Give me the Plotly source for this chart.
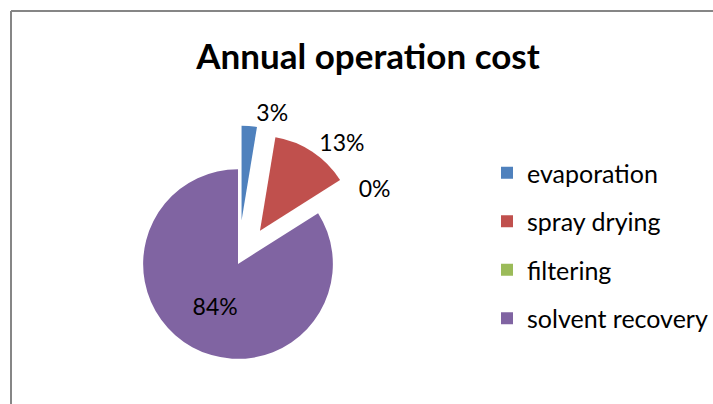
import plotly.graph_objects as go

# Annual operation cost breakdown (% share)
categories = ["evaporation", "spray drying", "filtering", "solvent recovery"]
cost_share = [2.6, 13.4, 0.0, 84.0]
colors = ["#4F81BD", "#C0504D", "#9BBB59", "#8064A2"]
pulls = [0.46, 0.42, 0.42, 0.0]
text_pos = ["outside", "outside", "outside", "inside"]

W, H = 713, 404
FONT = "Lato"

fig = go.Figure()

fig.add_trace(go.Pie(
    labels=categories,
    values=cost_share,
    sort=False,
    direction="clockwise",
    rotation=0,
    pull=pulls,
    marker=dict(colors=colors, line=dict(width=0)),
    texttemplate="%{percent:.0%}",
    textposition=text_pos,
    insidetextorientation="horizontal",
    textfont=dict(family=FONT, size=23, color="black"),
    outsidetextfont=dict(family=FONT, size=23, color="black"),
    insidetextfont=dict(family=FONT, size=23, color="black"),
    domain=dict(x=[99.5 / W, 376.5 / W], y=[1 - 402.5 / H, 1 - 125.5 / H]),
    showlegend=False,
    hoverinfo="label+percent",
))

# Legend entries, one per category, with square swatches
for name, col in zip(categories, colors):
    fig.add_trace(go.Scatter(
        x=[None], y=[None], mode="markers", name=name,
        legendgroup=name,
        marker=dict(symbol="square", size=14, color=col),
        showlegend=True, hoverinfo="skip",
    ))

fig.update_layout(
    width=W, height=H,
    margin=dict(l=0, r=0, t=0, b=0, pad=0, autoexpand=False),
    paper_bgcolor="white",
    plot_bgcolor="white",
    xaxis=dict(visible=False),
    yaxis=dict(visible=False),
    title=dict(
        text="<b>Annual operation cost</b>",
        x=368.0 / W, xanchor="center",
        y=1 - 57.0 / H, yanchor="middle",
        font=dict(family=FONT, size=35, color="black"),
    ),
    legend=dict(
        x=487.0 / W, xanchor="left",
        y=1 - 150.0 / H, yanchor="top",
        font=dict(family=FONT, size=25, color="black"),
        tracegroupgap=13,
        itemsizing="constant",
        bgcolor="rgba(0,0,0,0)",
    ),
    # chart frame: only the top and left edges fall inside the page
    shapes=[
        dict(type="line", xref="paper", yref="paper",
             x0=11.0 / W, y0=1 - 11.0 / H, x1=1.0, y1=1 - 11.0 / H,
             line=dict(color="#868686", width=2), layer="above"),
        dict(type="line", xref="paper", yref="paper",
             x0=11.0 / W, y0=1 - 11.0 / H, x1=11.0 / W, y1=0.0,
             line=dict(color="#868686", width=2), layer="above"),
    ],
)

fig.write_html("out.html")
